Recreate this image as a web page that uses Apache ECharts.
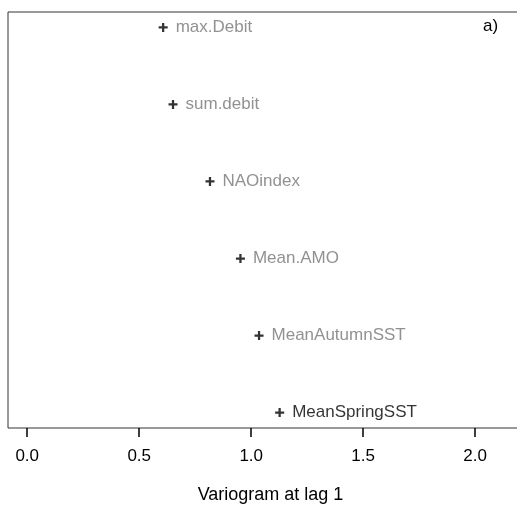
<!DOCTYPE html>
<html>
<head>
<meta charset="utf-8">
<script src="https://cdn.jsdelivr.net/npm/echarts@6/dist/echarts.min.js"></script>
<style>
  html, body { margin: 0; padding: 0; background: #ffffff; overflow: hidden; }
  #chart { width: 517px; height: 506px; }
</style>
</head>
<body>
<div id="chart"></div>
<script>
// Variables ranked by their variogram value at lag 1 (top to bottom)
const variables = ['max.Debit', 'sum.debit', 'NAOindex', 'Mean.AMO', 'MeanAutumnSST', 'MeanSpringSST'];
const variogramLag1 = [0.607, 0.651, 0.816, 0.952, 1.035, 1.127];
const rowPosition = [6, 5, 4, 3, 2, 1];
const highlighted = ['MeanSpringSST'];
const xTicks = [0, 0.5, 1, 1.5, 2];

const FONT = '"Liberation Sans", Arial, sans-serif';
const plusSymbol = 'path://M3,0h2v3h3v2h-3v3h-2v-3h-3v-2h3z';

const points = variables.map((name, i) => ({
  name: name,
  value: [variogramLag1[i], rowPosition[i]],
  label: { color: highlighted.includes(name) ? '#000000' : '#767676' }
}));

const chart = echarts.init(document.getElementById('chart'), null, { renderer: 'canvas' });
chart.setOption({
  animation: false,
  backgroundColor: '#ffffff',
  grid: {
    left: 8, top: 12, width: 525, bottom: 78,
    outerBoundsMode: 'none', containLabel: false,
    show: true, borderColor: '#333333', borderWidth: 1, backgroundColor: 'transparent'
  },
  xAxis: {
    type: 'value',
    min: -0.0857, max: 2.2581,
    name: 'Variogram at lag 1',
    nameLocation: 'middle',
    nameGap: 58,
    nameTextStyle: { fontFamily: FONT, fontSize: 18, color: '#000000' },
    splitLine: { show: false },
    axisLine: { show: false },
    axisTick: { show: true, length: 9, lineStyle: { color: '#000000', width: 1.5 }, customValues: xTicks },
    axisLabel: {
      margin: 20, fontFamily: FONT, fontSize: 17, color: '#000000',
      customValues: xTicks,
      formatter: v => v.toFixed(1)
    }
  },
  yAxis: {
    type: 'value', min: 0.8, max: 6.2,
    show: false, splitLine: { show: false }
  },
  series: [{
    type: 'scatter',
    data: points,
    symbol: plusSymbol,
    symbolSize: 9,
    itemStyle: { color: '#000000' },
    label: {
      show: true, position: 'right', distance: 8,
      formatter: p => p.name,
      fontFamily: FONT, fontSize: 17
    }
  }],
  graphic: [{
    type: 'text', left: 483, top: 18,
    style: { text: 'a)', font: '17px ' + FONT, fill: '#000000' }
  }]
});
</script>
</body>
</html>
